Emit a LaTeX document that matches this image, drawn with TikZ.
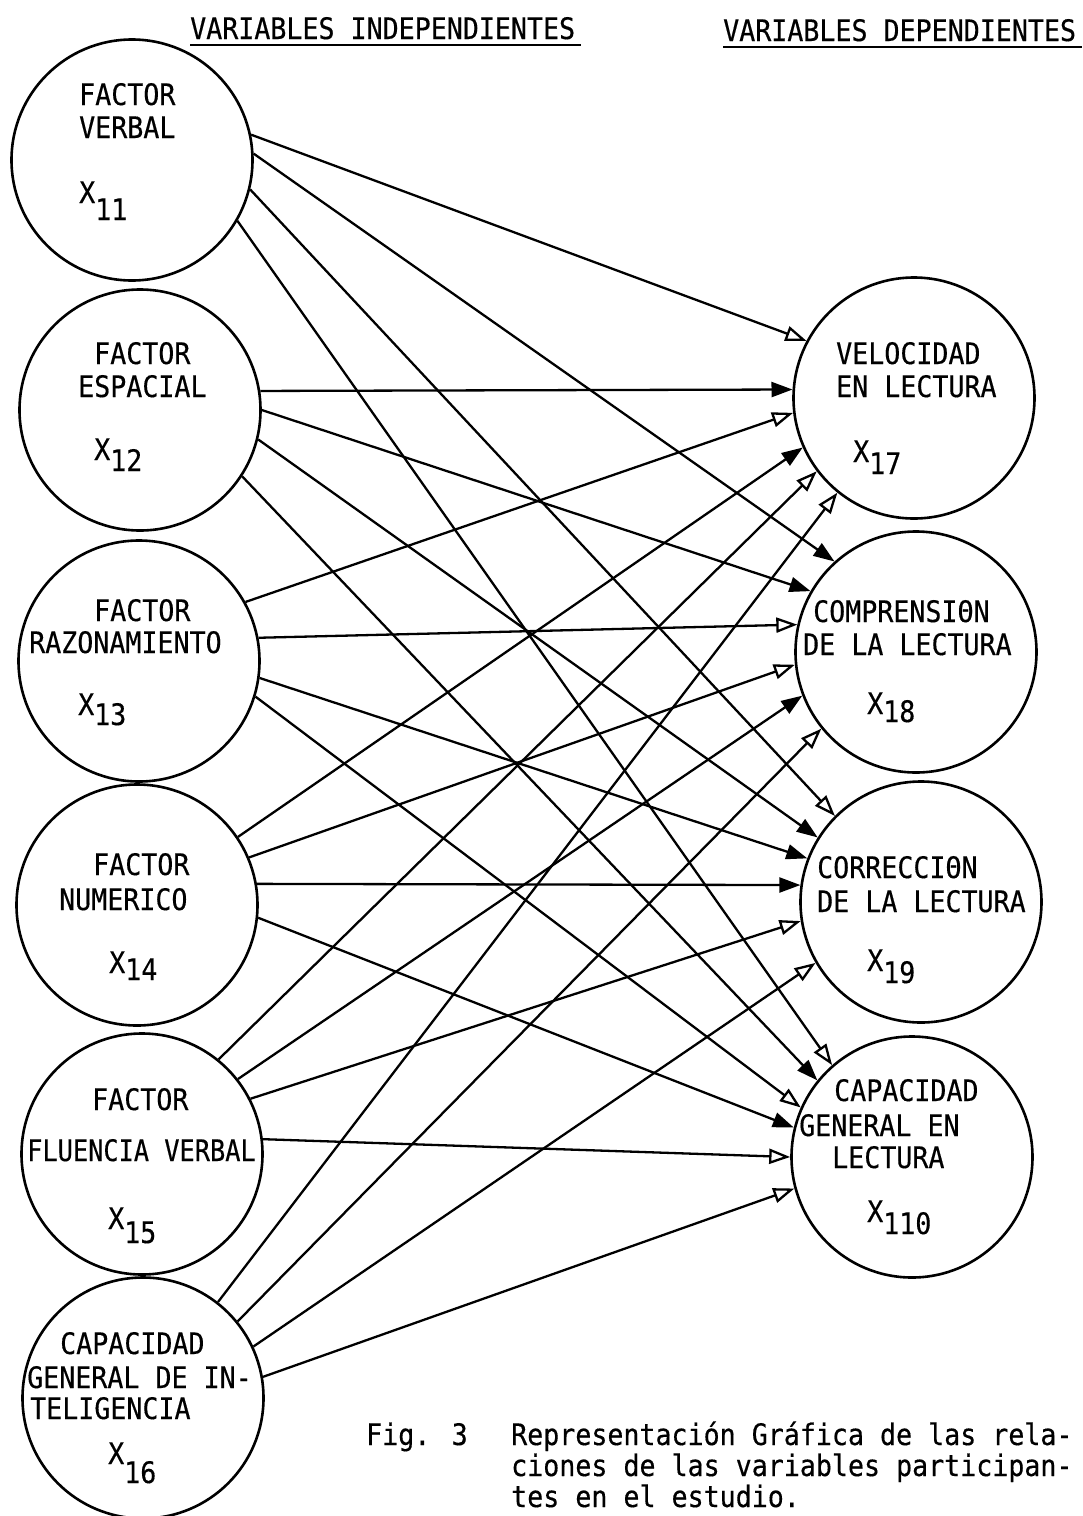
\documentclass[tikz,border=0pt]{standalone}
\usepackage{fontspec}
\usetikzlibrary{arrows.meta}
\newfontfamily\twfont[FakeStretch=0.9,FakeBold=0.4]{DejaVu Sans Mono}
\newcommand\twsize{\fontsize{29.6pt}{33pt}\selectfont}
\begin{document}
\begin{tikzpicture}[x=1pt,y=-1pt,
  vcirc/.style={circle,draw,line width=2.6pt,minimum size=241pt,inner sep=0pt},
  tx/.style={anchor=base west,inner sep=0pt,font=\twfont\twsize},
  link/.style={line width=2.3pt},
  arrF/.style={link,-{Triangle[length=21pt,width=15pt]}},
  arrO/.style={link,-{Triangle[open,length=21pt,width=15pt]}},
  uline/.style={line width=2.4pt}
]
\useasboundingbox[fill=white] (0,0) rectangle (1083,1516);

% headers
\node[tx] (hl) at (190,39) {VARIABLES INDEPENDIENTES};
\node[tx] (hr) at (723,41) {VARIABLES DEPENDIENTES};
\draw[uline] ([shift={(0,6)}]hl.base west) -- ([shift={(6,6)}]hl.base east);
\draw[uline] ([shift={(0,6)}]hr.base west) -- ([shift={(6,6)}]hr.base east);

% independent variables
\node[vcirc] (L1) at (132,160) {};
\node[vcirc] (L2) at (140,410) {};
\node[vcirc] (L3) at (139,661) {};
\node[vcirc] (L4) at (137,905) {};
\node[vcirc] (L5) at (142,1154) {};
\node[vcirc] (L6) at (143,1398) {};

% dependent variables
\node[vcirc] (R1) at (914,398) {};
\node[vcirc] (R2) at (916,652) {};
\node[vcirc] (R3) at (921,902) {};
\node[vcirc] (R4) at (912,1157) {};

% texts left
\node[tx] (t1a) at (79,105) {FACTOR};
\node[tx] (t1b) at (79,138) {VERBAL};
\node[tx] (t1c) at (79,203) {X\raisebox{-17pt}{11}};

\node[tx] (t2a) at (94,364) {FACTOR};
\node[tx] (t2b) at (78,397) {ESPACIAL};
\node[tx] (t2c) at (94,460) {X\raisebox{-11pt}{12}};

\node[tx] (t3a) at (94,621) {FACTOR};
\node[tx] (t3b) at (29,653) {RAZONAMIENTO};
\node[tx] (t3c) at (78,715) {X\raisebox{-10pt}{13}};

\node[tx] (t4a) at (93,875) {FACTOR};
\node[tx] (t4b) at (59,910) {NUMERICO};
\node[tx] (t4c) at (109,973) {X\raisebox{-7pt}{14}};

\node[tx] (t5a) at (92,1110) {FACTOR};
\node[tx] (t5b) at (27,1161) {\scalebox{0.95}[1]{FLUENCIA VERBAL}};
\node[tx] (t5c) at (108,1229) {X\raisebox{-14pt}{15}};

\node[tx] (t6a) at (60,1354) {CAPACIDAD};
\node[tx] (t6b) at (27,1388) {GENERAL DE IN-};
\node[tx] (t6c) at (30,1419) {TELIGENCIA};
\node[tx] (t6d) at (108,1464) {X\raisebox{-19pt}{16}};

% texts right
\node[tx] (r1a) at (836,364) {VELOCIDAD};
\node[tx] (r1b) at (836,397) {EN LECTURA};
\node[tx] (r1c) at (853,462) {X\raisebox{-12pt}{17}};

\node[tx] (r2a) at (813,622) {COMPRENSIΘN};
\node[tx] (r2b) at (803,655) {DE LA LECTURA};
\node[tx] (r2c) at (867,714) {X\raisebox{-8pt}{18}};

\node[tx] (r3a) at (817,878) {CORRECCIΘN};
\node[tx] (r3b) at (817,912) {DE LA LECTURA};
\node[tx] (r3c) at (867,971) {X\raisebox{-12pt}{19}};

\node[tx] (r4a) at (834,1101) {CAPACIDAD};
\node[tx] (r4b) at (799,1136) {GENERAL EN};
\node[tx] (r4c) at (832,1168) {LECTURA};
\node[tx] (r4d) at (867,1222) {X\raisebox{-12pt}{110}};

% caption
\node[tx] (fig) at (366,1445) {Fig. 3};
\node[tx] (cap1) at (511,1445) {Representación Gráfica de las rela-};
\node[tx] (cap2) at (511,1476) {ciones de las variables participan-};
\node[tx] (cap3) at (511,1507) {tes en el estudio.};

% arrows to R1
\draw[arrO] (L1.12) -- (R1.152);
\draw[arrF] (L2.9) -- (R1.176);
\draw[arrO] (L3.29) -- (R1.187);
\draw[arrF] (L4.34) -- (R1.204);
\draw[arrO] (L5.51) -- (R1.217);
\draw[arrO] (L6.52) -- (R1.231);
% arrows to R2
\draw[arrF] (L1.3) -- (R2.132);
\draw[arrF] (L2.0) -- (R2.150);
\draw[arrO] (L3.11) -- (R2.167);
\draw[arrO] (L4.23) -- (R2.186);
\draw[arrF] (L5.38) -- (R2.201);
\draw[arrO] (L6.39) -- (R2.219);
% arrows to R3
\draw[arrO] (L1.-14) -- (R3.135);
\draw[arrF] (L2.-14) -- (R3.148);
\draw[arrF] (L3.-8) -- (R3.159);
\draw[arrF] (L4.10) -- (R3.172);
\draw[arrO] (L5.27) -- (R3.189);
\draw[arrO] (L6.25) -- (R3.210);
% arrows to R4
\draw[arrO] (L1.-30) -- (R4.131);
\draw[arrF] (L2.-33) -- (R4.141);
\draw[arrO] (L3.-17) -- (R4.156);
\draw[arrF] (L4.-6) -- (R4.166);
\draw[arrO] (L5.7) -- (R4.180);
\draw[arrO] (L6.10) -- (R4.195);
\end{tikzpicture}
\end{document}
